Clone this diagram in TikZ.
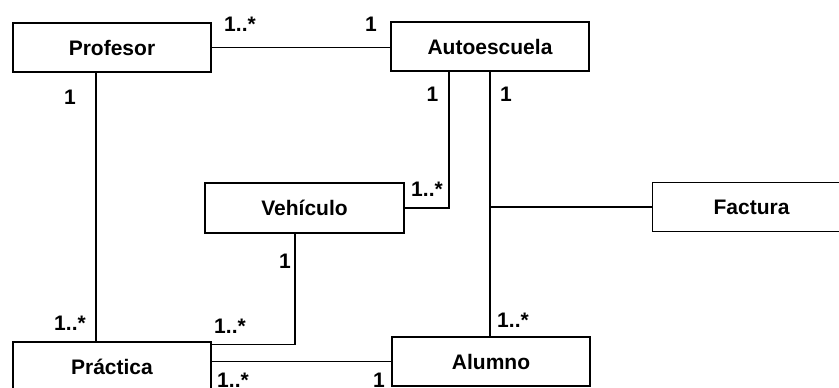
\documentclass[tikz,border=0pt]{standalone}
\usepackage{fontspec}
\setmainfont{Liberation Sans}

\begin{document}
\begin{tikzpicture}[
  x=0.5pt,y=-0.5pt,
  line width=0.7pt,
  every node/.style={font=\fontsize{10.5}{12.6}\selectfont\bfseries},
  entity/.style={draw,rectangle,minimum width=99pt,minimum height=24.5pt,
    inner sep=0pt},
  mult/.style={inner sep=0pt}
]
  \clip (0,0) rectangle (839,387);

  % Classes.
  \node[entity] (prof) at (112,47.5) {Profesor};
  \node[entity] (auto) at (490,46.5) {Autoescuela};
  \node[entity,minimum width=99.5pt,minimum height=25pt] (veh) at (304.5,208) {Vehículo};
  \node[entity] (fact) at (751.5,207) {Factura};
  \node[entity] (prac) at (112,366.5) {Práctica};
  \node[entity] (alum) at (491,361.5) {Alumno};

  % Associations.
  \draw (prof.east) -- (prof.east -| auto.west);
  \draw ([xshift=-8pt]prof.south) -- ([xshift=-8pt]prac.north);
  \draw ([xshift=-20.5pt]auto.south) |- (veh.east);
  \draw (auto.south) -- (auto.south |- alum.north);
  \draw (auto.south |- fact.west) -- (fact.west);
  \draw ([xshift=-4.75pt]veh.south) |- ([yshift=-1.5pt]prac.north east);
  \draw (prac.east |- alum.west) -- (alum.west);

  % Multiplicities.
  \node[mult] (mprofauto) at (240,24.5) {1..*};
  \node[mult] (mautoprof) at (371,24.5) {1};
  \node[mult] (mprofprac) at (70,97.5) {1};
  \node[mult] (mautoveh) at (432.5,94.5) {1};
  \node[mult] (mautoalum) at (506,94.5) {1};
  \node[mult] (mvehauto) at (427,189) {1..*};
  \node[mult] (mvehprac) at (285,261) {1};
  \node[mult] (mpracprof) at (70,323.5) {1..*};
  \node[mult] (mpracveh) at (230,326) {1..*};
  \node[mult] (malumauto) at (513,320.5) {1..*};
  \node[mult] (mpracalum) at (233,380.5) {1..*};
  \node[mult] (malumprac) at (379,380.5) {1};
\end{tikzpicture}
\end{document}
